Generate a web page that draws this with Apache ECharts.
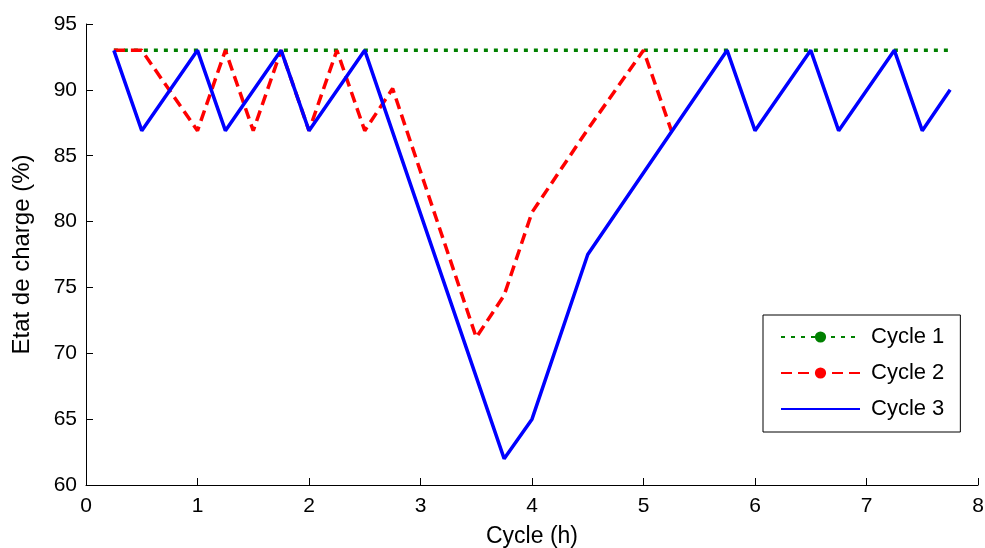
<!DOCTYPE html>
<html><head><meta charset="utf-8">
<script src="https://cdn.jsdelivr.net/npm/echarts@6/dist/echarts.min.js"></script>
<style>html,body{margin:0;padding:0;background:#fff}#c{width:985px;height:548px}</style>
</head><body><div id="c"></div>
<script>
const xTicks = [0,1,2,3,4,5,6,7,8];
const yTicks = [60,65,70,75,80,85,90,95];
const cycle1X = [0.25,7.75];
const cycle1Y = [93,93];
const cycle2X = [0.25,0.5,1,1.25,1.5,1.75,2,2.25,2.5,2.75,3.5,3.75,4,4.5,5,5.25];
const cycle2Y = [93,93,86.9,93,86.9,93,86.9,93,86.9,90.1,71.2,74.4,80.7,87,93,86.9];
const cycle3X = [0.25,0.5,1,1.25,1.75,2,2.5,3.75,4,4.5,5.75,6,6.5,6.75,7.25,7.5,7.75];
const cycle3Y = [93,86.9,93,86.9,93,86.9,93,62,65,77.5,93,86.9,93,86.9,93,86.9,90];
const seriesNames = ['Cycle 1','Cycle 2','Cycle 3'];

const zip = (a,b) => a.map((v,i)=>[v,b[i]]);
const font = 'Liberation Sans, Arial, sans-serif';
const chart = echarts.init(document.getElementById('c'));
chart.setOption({
  animation:false,
  grid:{left:86,right:7,top:24,bottom:63,containLabel:false,outerBoundsMode:'none'},
  xAxis:{type:'value',min:xTicks[0],max:xTicks[xTicks.length-1],interval:1,
    name:'Cycle (h)',nameLocation:'middle',nameGap:40,
    nameTextStyle:{fontFamily:font,fontSize:23,color:'#000'},
    axisLine:{lineStyle:{color:'#000',width:1}},
    axisTick:{inside:true,length:7,lineStyle:{color:'#000'}},
    axisLabel:{fontFamily:font,fontSize:21,color:'#000',margin:11},
    splitLine:{show:false}},
  yAxis:{type:'value',min:yTicks[0],max:yTicks[yTicks.length-1],interval:5,
    name:'Etat de charge (%)',nameLocation:'middle',nameGap:52,
    nameTextStyle:{fontFamily:font,fontSize:24,color:'#000'},
    axisLine:{show:true,lineStyle:{color:'#000',width:1}},
    axisTick:{show:true,inside:true,length:7,lineStyle:{color:'#000'}},
    axisLabel:{fontFamily:font,fontSize:21,color:'#000',margin:9},
    splitLine:{show:false}},
  legend:{orient:'vertical',left:763,top:315,
    backgroundColor:'#fff',borderColor:'#000',borderWidth:1,
    padding:[11,16,12,17],itemWidth:79,itemHeight:14,itemGap:14,
    textStyle:{fontFamily:font,fontSize:22,color:'#000',padding:[0,0,0,6]},
    data:[seriesNames[0],seriesNames[1],
      {name:seriesNames[2],itemStyle:{color:'rgba(0,0,0,0)',borderWidth:0,opacity:0}}]},
  series:[
    {name:seriesNames[0],type:'line',data:zip(cycle1X,cycle1Y),symbol:'circle',symbolSize:9,showSymbol:false,
      itemStyle:{color:'#008000'},lineStyle:{color:'#008000',width:3.5,type:[4,6]},z:1},
    {name:seriesNames[1],type:'line',data:zip(cycle2X,cycle2Y),symbol:'circle',symbolSize:9,showSymbol:false,
      itemStyle:{color:'#ff0000'},lineStyle:{color:'#ff0000',width:3.5,type:[11,6]},z:2},
    {name:seriesNames[2],type:'line',data:zip(cycle3X,cycle3Y),symbol:'none',
      itemStyle:{color:'#0000ff'},lineStyle:{color:'#0000ff',width:3.5},z:3}
  ]
});
</script></body></html>
